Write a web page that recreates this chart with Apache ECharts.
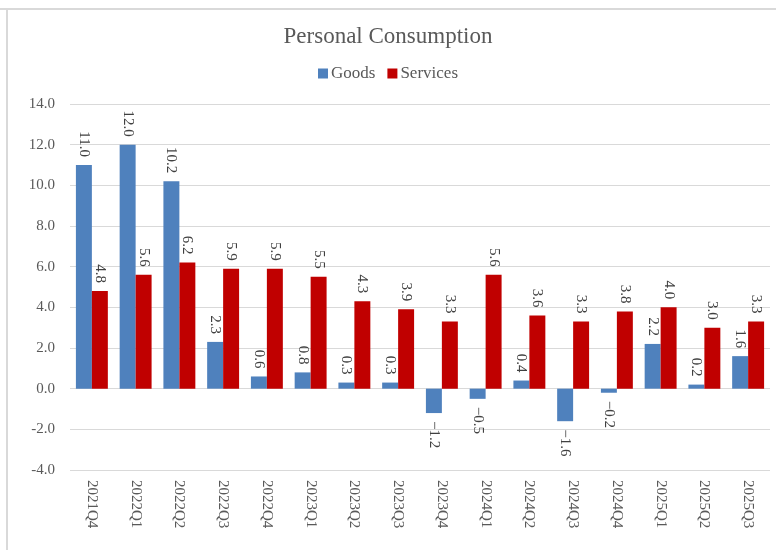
<!DOCTYPE html>
<html>
<head>
<meta charset="utf-8">
<script src="https://cdn.jsdelivr.net/npm/echarts@6/dist/echarts.min.js"></script>
<style>
  html, body { margin: 0; padding: 0; background: #fff; }
  #main { width: 776px; height: 550px; }
</style>
</head>
<body>
<div id="main"></div>
<script>
// 季度
var quarters = ["2021Q4", "2022Q1", "2022Q2", "2022Q3", "2022Q4", "2023Q1", "2023Q2", "2023Q3",
  "2023Q4", "2024Q1", "2024Q2", "2024Q3", "2024Q4", "2025Q1", "2025Q2", "2025Q3"];
// 商品
var goods = [11.0, 12.0, 10.2, 2.3, 0.6, 0.8, 0.3, 0.3, -1.2, -0.5, 0.4, -1.6, -0.2, 2.2, 0.2, 1.6];
// 服务
var services = [4.8, 5.6, 6.2, 5.9, 5.9, 5.5, 4.3, 3.9, 3.3, 5.6, 3.6, 3.3, 3.8, 4.0, 3.0, 3.3];

var serif = "Liberation Serif";

// 负值标签放在柱子下方
function withLabels(arr) {
  return arr.map(function(v) {
    if (v < 0) {
      return { value: v, label: { position: "bottom", align: "left" } };
    }
    return { value: v, label: { position: "top", align: "right" } };
  });
}

var labelStyle = {
  show: true,
  rotate: -90,
  distance: 8,
  verticalAlign: "middle",
  fontFamily: serif,
  fontSize: 15,
  color: "#404040",
  formatter: function(p) {
    return p.value < 0 ? "\u2212" + Math.abs(p.value).toFixed(1) : p.value.toFixed(1);
  }
};

var myChart = echarts.init(document.getElementById("main"));
var option = {
  backgroundColor: "#fff",
  animation: false,
  title: {
    text: "Personal Consumption",
    left: "center",
    top: 20,
    textStyle: { fontFamily: serif, fontSize: 23, fontWeight: "normal", color: "#595959" }
  },
  legend: {
    data: ["Goods", "Services"],
    top: 60,
    left: "center",
    itemWidth: 10,
    itemHeight: 10,
    itemGap: 12,
    icon: "rect",
    textStyle: { fontFamily: serif, fontSize: 17, color: "#595959", padding: [0, 0, 0, -2] }
  },
  graphic: [
    { type: "line", shape: { x1: 0, y1: 9, x2: 776, y2: 9 }, style: { stroke: "#d9d9d9", lineWidth: 2 } },
    { type: "line", shape: { x1: 7, y1: 9, x2: 7, y2: 550 }, style: { stroke: "#d9d9d9", lineWidth: 2 } }
  ],
  grid: { left: 70, right: 6, top: 104, bottom: 80 },
  xAxis: {
    type: "category",
    data: quarters,
    axisLine: { show: false },
    axisTick: { show: false },
    axisLabel: {
      rotate: -90,
      margin: 10,
      fontFamily: serif,
      fontSize: 15,
      color: "#595959"
    }
  },
  yAxis: {
    type: "value",
    min: -4,
    max: 14,
    interval: 2,
    axisLine: { show: false },
    axisTick: { show: false },
    splitLine: { lineStyle: { color: "#d9d9d9", width: 1 } },
    axisLabel: {
      margin: 15,
      fontFamily: serif,
      fontSize: 15,
      color: "#595959",
      formatter: function(v) { return v.toFixed(1); }
    }
  },
  series: [
    {
      name: "Goods",
      type: "bar",
      data: withLabels(goods),
      barGap: "0%",
      barCategoryGap: "27%",
      itemStyle: { color: "#4f81bd" },
      label: labelStyle
    },
    {
      name: "Services",
      type: "bar",
      data: withLabels(services),
      barGap: "0%",
      barCategoryGap: "27%",
      itemStyle: { color: "#c00000" },
      label: labelStyle
    }
  ]
};
myChart.setOption(option);
</script>
</body>
</html>
